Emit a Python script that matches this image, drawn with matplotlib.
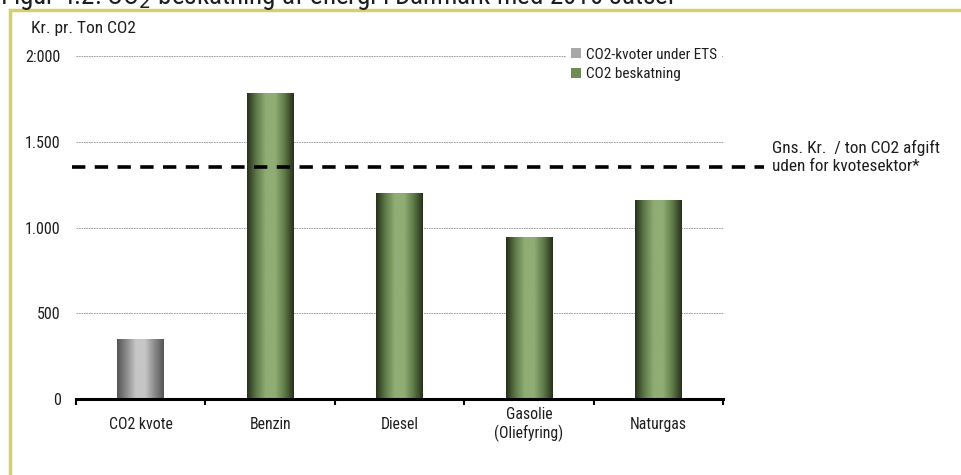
import matplotlib.pyplot as plt
import numpy as np
from matplotlib.patches import Rectangle, Patch
from matplotlib.colors import LinearSegmentedColormap

plt.rcParams['font.family'] = ['Roboto Condensed', 'Liberation Sans', 'DejaVu Sans']

categories = ['CO2 kvote', 'Benzin', 'Diesel', 'Gasolie\n(Oliefyring)', 'Naturgas']
values = [350, 1785, 1200, 945, 1160]
groups = ['ets', 'tax', 'tax', 'tax', 'tax']
avg_tax = 1350
yticks = [0, 500, 1000, 1500, 2000]
ytick_labels = ['0', '500', '1.000', '1.500', '2:000']

gray_cmap = LinearSegmentedColormap.from_list(
    'gray_bar', ['#555555', '#8a8a8a', '#c6c6c6', '#c6c6c6', '#8a8a8a', '#555555'])
green_cmap = LinearSegmentedColormap.from_list(
    'green_bar', ['#25301b', '#5f7a48', '#8fad75', '#8fad75', '#5f7a48', '#25301b'])
cmaps = {'ets': gray_cmap, 'tax': green_cmap}
text_color = '#1e1e1e'

fig = plt.figure(figsize=(9.61, 4.75), dpi=100)
ax = fig.add_axes([76 / 961, 1 - 399 / 475, (723 - 76) / 961, (399 - 56) / 475])

# frame around the figure
fig.patches.append(Rectangle((10 / 961, -0.05), 1.1, 1 - 10 / 475 + 0.05,
                             transform=fig.transFigure, fill=False,
                             edgecolor='#d5d06c', linewidth=2.5))

fig.text(0.0, 1 - 4 / 475, 'Figur 4.2: CO$_2$ beskatning af energi i Danmark med 2010 satser',
         fontsize=19.5, va='baseline', ha='left', color=text_color)

x = np.arange(len(categories))
width = 0.36
grad = np.linspace(0, 1, 256).reshape(1, -1)
for xi, v, g in zip(x, values, groups):
    im = ax.imshow(grad, cmap=cmaps[g], aspect='auto', zorder=3,
                   extent=(xi - width / 2, xi + width / 2, 0, v))
    clip = Rectangle((xi - width / 2, 0), width, v, transform=ax.transData,
                     facecolor='none', edgecolor='none')
    ax.add_patch(clip)
    im.set_clip_path(clip)

ax.set_xlim(-0.5, len(categories) - 0.5)
ax.set_ylim(0, 2000)
ax.set_yticks(yticks)
ax.set_yticklabels(ytick_labels)
ax.set_xticks(x)
ax.set_xticklabels(categories)
for lbl in ax.get_xticklabels():
    lbl.set_va('center')
ax.tick_params(axis='x', length=0, pad=18.5, labelsize=11.3, colors=text_color)
ax.tick_params(axis='y', length=0, pad=11, labelsize=11.5, colors=text_color)
ax.set_xticks(np.arange(-0.5, len(categories), 1), minor=True)
ax.tick_params(axis='x', which='minor', length=4, width=1.5, direction='out')

for s in ['top', 'right', 'left']:
    ax.spines[s].set_visible(False)
ax.spines['bottom'].set_linewidth(2.2)
ax.spines['bottom'].set_zorder(4)

ax.yaxis.grid(True, linestyle=(0, (2, 1)), linewidth=0.6, color='#8f8f8f')
ax.set_axisbelow(True)

# average tax level, running past the plot area
ax.plot([-0.53, 4.82], [avg_tax, avg_tax], color='black', linewidth=2.6,
        linestyle=(0, (3.7, 2.6)), clip_on=False, zorder=5)
ax.text(4.88, avg_tax + 60, 'Gns. Kr.  / ton CO2 afgift\nuden for kvotesektor*',
        fontsize=12.4, va='center', ha='left', linespacing=1.25, color=text_color)

fig.text(31 / 961, 1 - 29 / 475, 'Kr. pr. Ton CO2', fontsize=12.5, va='center',
         ha='left', color=text_color)

handles = [Patch(facecolor='#a8a8a8', label='CO2-kvoter under ETS'),
           Patch(facecolor='#6f8c56', label='CO2 beskatning')]
leg = ax.legend(handles=handles, loc='upper left', bbox_to_anchor=(0.746, 1.06),
                frameon=True, fontsize=11, handlelength=0.65, handleheight=0.65,
                handletextpad=0.35, labelspacing=0.35, borderpad=0.3)
leg.get_frame().set_edgecolor('none')
leg.get_frame().set_facecolor('white')
leg.get_frame().set_alpha(1)
for t in leg.get_texts():
    t.set_color(text_color)
leg.set_zorder(6)

fig.savefig('out.png', dpi=100)
